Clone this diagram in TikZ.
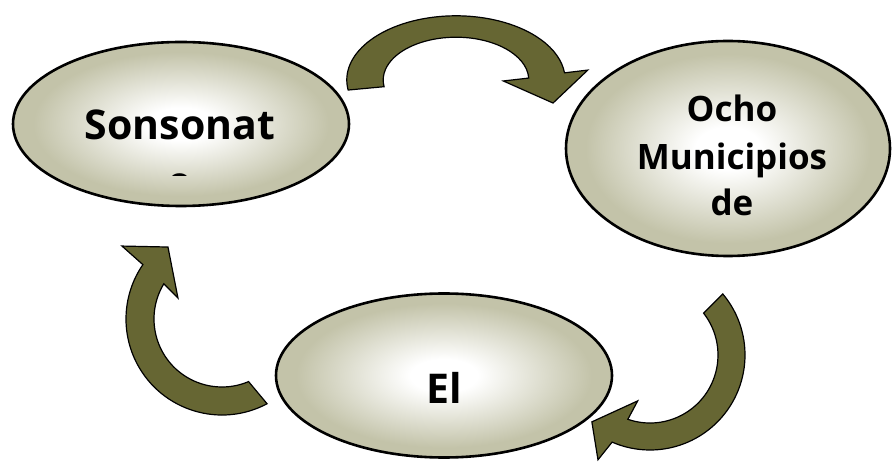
\documentclass[tikz,border=0pt]{standalone}
\usepackage{fontspec}
\setmainfont{Open Sans}
\begin{document}
\definecolor{ovaledge}{RGB}{195,195,169}
\definecolor{arrowfill}{RGB}{102,102,51}
% white centre fading to the olive grey rim (25bp = edge of the shape)
\pgfdeclareradialshading{ovalshade}{\pgfpoint{0bp}{0bp}}{%
  color(0bp)=(white); color(5bp)=(white); color(22bp)=(ovaledge); color(50bp)=(ovaledge)}
\begin{tikzpicture}[x=1pt,y=-1pt,
  oval/.style={draw=black,line width=2.6pt,shading=ovalshade},
  arrowbody/.style={draw=black,line width=1.2pt,fill=arrowfill,line join=miter},
  bigtext/.style={font=\fontsize{41}{50}\selectfont\bfseries,inner sep=0pt,anchor=base},
  midtext/.style={font=\fontsize{35}{47}\selectfont\bfseries,inner sep=0pt,anchor=base}]
\useasboundingbox (0,0) rectangle (892,462);

% the three places
\shade[oval] (181,124) ellipse[x radius=168,y radius=82];
\shade[oval] (728,148.5) ellipse[x radius=162,y radius=107.5];
\shade[oval] (444,375.5) ellipse[x radius=168,y radius=82];

% labels
\node[bigtext] (sonsonate) at (180,140) {Sonsonat};
\begin{scope}
  \clip (0,0) rectangle (892,176);
  \node[bigtext] (sonsonatetail) at (180,197) {e};
\end{scope}
\node[midtext] (ocho) at (732,122) {Ocho};
\node[midtext] (municipios) at (732,170) {Municipios};
\node[midtext] (de) at (732,216) {de};
\node[bigtext] (el) at (444,403) {El};

% curved arrows, clockwise round the cycle
\begin{scope}[shift={(456,80)},xscale=91,yscale=-53.5]
  \draw[arrowbody] (189:1.2) arc[start angle=189,end angle=6.4,radius=1.2]
    -- (7.3:1.46) -- (-22:1.15) -- (-2:0.52) -- (2.6:0.8)
    arc[start angle=2.6,end angle=189,radius=0.8] -- cycle;
\end{scope}
\begin{scope}[shift={(650,355)},yscale=-1]
  \draw[arrowbody] (40:95) arc[start angle=40,end angle=-113.5,radius=95]
    -- (-116.4:117) -- (-131:88.6) -- (-105:47.5) -- (-109:68)
    arc[start angle=-109,end angle=38,radius=68] -- cycle;
\end{scope}
\begin{scope}[shift={(222,319)},yscale=-1]
  \draw[arrowbody] (-62:96) arc[start angle=-62,end angle=-214.5,radius=96]
    -- (143.9:123.8) -- (126.9:90) -- (154.5:48.8) -- (148.8:68)
    arc[start angle=148.8,end angle=293,radius=68] -- cycle;
\end{scope}
\end{tikzpicture}
\end{document}
